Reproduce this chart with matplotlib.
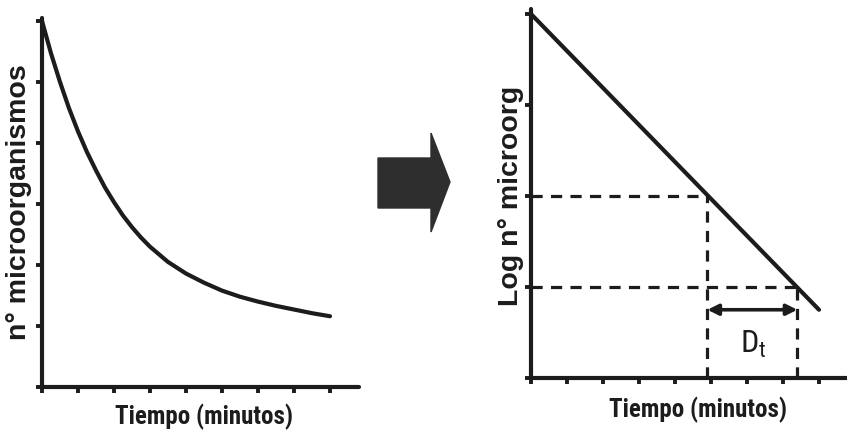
import matplotlib
matplotlib.use("Agg")
import matplotlib.pyplot as plt
from matplotlib.patches import Polygon

# decay curve (left): time in minutes vs number of survivors
tiempo = [0, 0.25, 0.5, 0.75, 1.0, 1.25, 1.5, 1.75, 2.0, 2.25, 2.5, 2.75, 3.0,
          3.5, 4.0, 4.5, 5.0, 5.5, 6.0, 6.5, 7.0, 7.5, 8.0]
n_micro = [6.0, 5.47, 5.0, 4.57, 4.19, 3.85, 3.55, 3.27, 3.03, 2.81, 2.62, 2.45, 2.30,
           2.05, 1.86, 1.71, 1.58, 1.48, 1.40, 1.33, 1.27, 1.21, 1.16]

# log-linear line (right)
log_x = [0, 8.0]
log_y = [4.0, 0.75]

# D value construction: one log reduction between these two times
d_times = [4.9, 7.4]
d_levels = [2.0, 1.0]
d_label_y = 0.75

x_ticks = list(range(0, 9))
y_ticks_left = list(range(0, 7))
y_ticks_right = list(range(0, 5))

INK = "#1c1c1c"
W, H = 847, 434
NARROW = ["Liberation Sans Narrow", "Roboto Condensed", "Liberation Sans", "DejaVu Sans"]
BOLD = ["Liberation Sans", "DejaVu Sans"]

plt.rcParams["mathtext.fontset"] = "custom"
plt.rcParams["mathtext.rm"] = "Roboto Condensed"

fig = plt.figure(figsize=(W / 100, H / 100), dpi=100)


def make_axes(x0, y0, xmax, ymax, px_x, px_y, yticks):
    ax = fig.add_axes([x0 / W, (H - y0) / H, xmax * px_x / W, ymax * px_y / H])
    ax.set_xlim(0, xmax)
    ax.set_ylim(0, ymax)
    for side in ("top", "right"):
        ax.spines[side].set_visible(False)
    for side in ("left", "bottom"):
        ax.spines[side].set_linewidth(3.0)
        ax.spines[side].set_color(INK)
        ax.spines[side].set_capstyle("round")
    ax.set_xticks(x_ticks)
    ax.set_yticks(yticks)
    ax.tick_params(direction="out", length=4.5, width=2.8, color=INK,
                   labelbottom=False, labelleft=False)
    ax.patch.set_alpha(0)
    return ax


ax1 = make_axes(42, 387, 8.8, 6.05, 36, 61, y_ticks_left)
ax1.plot(tiempo, n_micro, color=INK, lw=3.0, solid_capstyle="round",
         solid_joinstyle="round", clip_on=False)

ax2 = make_axes(531, 378, 8.8, 4.05, 36, 91, y_ticks_right)
ax2.plot(log_x, log_y, color=INK, lw=3.0, solid_capstyle="round", clip_on=False)

dash = (0, (3.5, 2.6))
for t, lv in zip(d_times, d_levels):
    ax2.plot([0, t], [lv, lv], color=INK, lw=2.3, ls=dash)
    ax2.plot([t, t], [0, lv], color=INK, lw=2.3, ls=dash)

ax2.annotate("", xy=(d_times[0], d_label_y), xytext=(d_times[1], d_label_y),
             arrowprops=dict(arrowstyle="<|-|>", color=INK, lw=2.6,
                             mutation_scale=16, shrinkA=0, shrinkB=0))
ax2.text(6.17, 0.37, r"$\mathregular{D_t}$", fontsize=23,
         ha="center", va="center", color=INK, family=NARROW)

# axis titles
fig.text(204 / W, 1 - 417 / H, "Tiempo (minutos)", fontsize=18, family=NARROW,
         weight="bold", ha="center", va="center", color=INK)
fig.text(698 / W, 1 - 410 / H, "Tiempo (minutos)", fontsize=18, family=NARROW,
         weight="bold", ha="center", va="center", color=INK)
fig.text(19 / W, 1 - 202 / H, "n° microorganismos", fontsize=20.5, family=BOLD,
         weight="bold", rotation=90, ha="center", va="center", color=INK)
fig.text(511 / W, 1 - 196 / H, "Log n° microorg", fontsize=20.5, family=BOLD,
         weight="bold", rotation=90, ha="center", va="center", color=INK)

# block arrow between the two panels
arrow_px = [(378, 158), (431, 158), (431, 133), (450, 182),
            (431, 232), (431, 208), (378, 208)]
fig.patches.append(Polygon([(x / W, 1 - y / H) for x, y in arrow_px], closed=True,
                           transform=fig.transFigure, facecolor="#2e2e2e",
                           edgecolor="#2e2e2e", lw=1))

fig.savefig("out.png", dpi=100, facecolor="white")
